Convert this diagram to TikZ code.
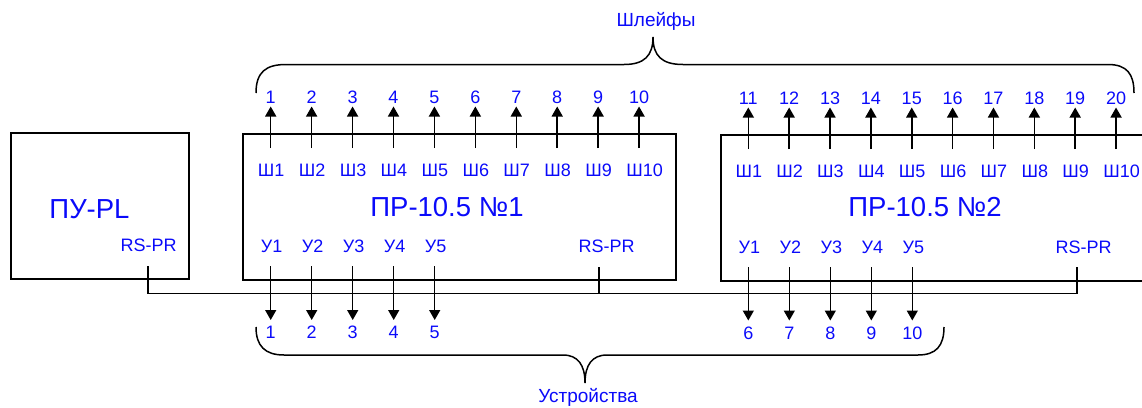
\documentclass[tikz,border=0pt]{standalone}
\usepackage{fontspec}
\setmainfont{Liberation Sans}
\usetikzlibrary{arrows.meta}
\definecolor{lbl}{RGB}{10,10,250}
\begin{document}
\begin{tikzpicture}[x=1pt,y=-1pt,
  blk/.style={draw,line width=1.6pt,inner sep=0pt,outer sep=0pt},
  conn/.style={line width=1.4pt},
  arr/.style={line width=1.5pt,-{Triangle[length=10pt,width=11pt]}},
  brace/.style={line width=1.5pt},
  small/.style={text=lbl,font=\fontsize{18}{20}\selectfont,inner sep=0pt},
  mid/.style={text=lbl,font=\fontsize{19}{21}\selectfont,inner sep=0pt},
  big/.style={text=lbl,font=\fontsize{27.5}{30}\selectfont,inner sep=0pt}]
\useasboundingbox (0,0) rectangle (1142,407);
% blocks
\node[blk,minimum width=178pt,minimum height=146pt] (pu) at (100,206) {};
\node[blk,minimum width=433pt,minimum height=146pt] (pr1) at (459.5,207) {};
\node[blk,minimum width=439pt,minimum height=146pt] (pr2) at (940.5,208) {};
\node[big,anchor=base] (pulbl) at (89.5,218) {ПУ-PL};
\node[big,anchor=base] (pr1lbl) at (447,216) {ПР-10.5 №1};
\node[big,anchor=base] (pr2lbl) at (925,216.5) {ПР-10.5 №2};
% RS-PR labels
\node[small,anchor=base] (rs0) at (148.7,251.7) {RS-PR};
\node[small,anchor=base] (rs1) at (606.7,252.3) {RS-PR};
\node[small,anchor=base] (rs2) at (1083.7,253) {RS-PR};
% bus
\coordinate (t0) at (148,266);
\coordinate (t1) at (599,267);
\coordinate (t2) at (1077,267);
\coordinate (busL) at (148,293.5);
\coordinate (busM) at (599,293.5);
\coordinate (busR) at (1077,293.5);
\draw[conn] (t0) -- (busL) -- (busR) -- (t2);
\draw[conn] (t1) -- (busM);
% top outputs of block 1
\foreach \i in {1,...,10} {
  \pgfmathsetmacro\xx{270.7+40.93*(\i-1)}
  \coordinate (sa\i) at (\xx,148);
  \coordinate (sb\i) at (\xx,106.5);
  \draw[arr] (sa\i) -- (sb\i);
  \node[small,anchor=base] (n\i) at (\xx,103.3) {\i};
  \node[small,anchor=base west] (sh\i) at (\xx-13,176) {Ш\i};
}
% top outputs of block 2
\foreach \i in {1,...,10} {
  \pgfmathsetmacro\xx{748.3+40.86*(\i-1)}
  \pgfmathtruncatemacro\k{\i+10}
  \coordinate (ta\i) at (\xx,149);
  \coordinate (tb\i) at (\xx,107.5);
  \draw[arr] (ta\i) -- (tb\i);
  \node[small,anchor=base] (m\i) at (\xx,104.3) {\k};
  \node[small,anchor=base west] (th\i) at (\xx-13,177.3) {Ш\i};
}
% bottom outputs of block 1
\foreach \i in {1,...,5} {
  \pgfmathsetmacro\xx{270.7+41*(\i-1)}
  \coordinate (ua\i) at (\xx,266);
  \coordinate (ub\i) at (\xx,320);
  \draw[arr] (ua\i) -- (ub\i);
  \node[small,anchor=base] (ul\i) at (\xx+1,252.3) {У\i};
  \node[small,anchor=base] (un\i) at (\xx,338.3) {\i};
}
% bottom outputs of block 2
\foreach \i in {1,...,5} {
  \pgfmathsetmacro\xx{748.3+41*(\i-1)}
  \pgfmathtruncatemacro\k{\i+5}
  \coordinate (va\i) at (\xx,267);
  \coordinate (vb\i) at (\xx,320.5);
  \draw[arr] (va\i) -- (vb\i);
  \node[small,anchor=base] (vl\i) at (\xx+1,253) {У\i};
  \node[small,anchor=base] (vn\i) at (\xx,339.3) {\k};
}
% top brace
\draw[brace] (256,93) .. controls (256,72) and (266,64.5) .. (286,64.5)
  -- (624,64.5) .. controls (644,64.5) and (653,56) .. (653,37)
  .. controls (653,56) and (662,64.5) .. (683,64.5)
  -- (1108,64.5) .. controls (1127,64.5) and (1134,74) .. (1134,93);
\node[mid,anchor=base] (shl) at (656,26) {Шлейфы};
% bottom brace
\draw[brace] (256,327) .. controls (256,346) and (265,355) .. (284,355)
  -- (563,355) .. controls (578,355) and (585,365) .. (585,383)
  .. controls (585,365) and (592,355) .. (607,355)
  -- (918,355) .. controls (936,355) and (944,346) .. (944,327);
\node[mid,anchor=base] (ustr) at (588,402) {Устройства};
\end{tikzpicture}
\end{document}
